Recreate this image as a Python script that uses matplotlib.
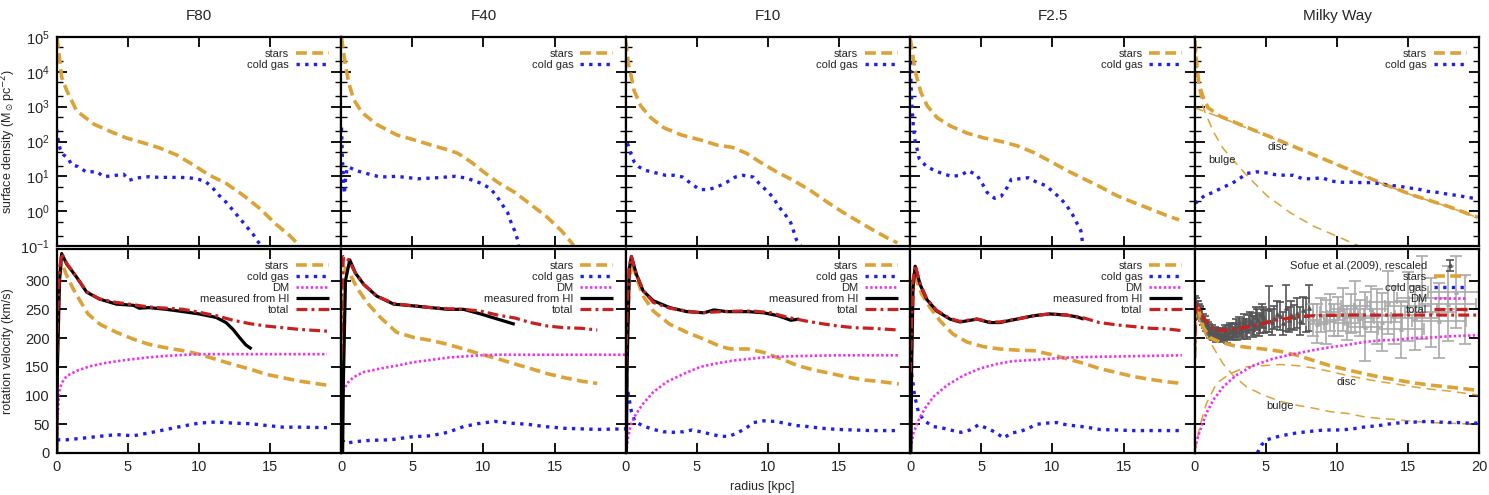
import numpy as np
import matplotlib
matplotlib.use("Agg")
import matplotlib.pyplot as plt
from matplotlib.lines import Line2D
from matplotlib.ticker import LogLocator, NullFormatter

plt.rcParams['font.family'] = ['Liberation Sans', 'DejaVu Sans']

# ---------------- data: panel titles ----------------
TITLES = ["F80", "F40", "F10", "F2.5", "Milky Way"]

# ---------------- surface density (radius kpc, log10 Msun/pc^2) ----------------
F80_SD_STARS_R = [0.02, 0.35, 0.7, 1.4, 2.6, 3.7, 4.9, 6.1, 7.2, 8.4, 9.6, 10.7, 11.9, 13.1, 14.3, 15.4, 16.4, 17.1, 17.5]
F80_SD_STARS_LOG = [5.0, 3.85, 3.47, 2.88, 2.5, 2.3, 2.1, 1.96, 1.82, 1.62, 1.33, 1.04, 0.80, 0.46, 0.07, -0.37, -0.71, -1.0, -1.2]
F80_SD_GAS_R = [0.0, 0.08, 0.23, 0.47, 0.8, 1.05, 1.5, 2.1, 2.8, 3.3, 4.0, 4.7, 5.1, 5.8, 6.5, 7.2, 7.9, 8.6, 9.3, 10.0,
                10.5, 11.0, 11.4, 11.9, 12.4, 12.9, 13.3, 13.8, 14.1, 14.5, 14.8]
F80_SD_GAS_LOG = [2.35, 2.1, 1.8, 1.62, 1.52, 1.33, 1.28, 1.12, 1.14, 0.99, 1.02, 1.06, 0.89, 0.96, 0.99, 0.97, 0.97, 0.97, 0.96, 0.91,
                  0.84, 0.65, 0.46, 0.26, 0.02, -0.22, -0.42, -0.66, -0.85, -1.05, -1.2]

F40_SD_STARS_R = [0.02, 0.28, 0.52, 0.87, 1.46, 2.5, 3.9, 5.1, 6.3, 7.5, 8.2, 9.1, 10.0, 11.0, 12.2, 13.3, 14.5, 15.5, 16.2, 16.5]
F40_SD_STARS_LOG = [5.0, 4.23, 3.7, 3.21, 2.83, 2.49, 2.19, 2.05, 1.90, 1.76, 1.66, 1.42, 1.13, 0.83, 0.54, 0.20, -0.18, -0.57, -0.91, -1.1]
F40_SD_GAS_R = [0.02, 0.05, 0.08, 0.12, 0.17, 0.22, 0.3, 0.4, 0.52, 1.0, 1.8, 2.75, 3.9, 5.4, 6.75, 8.0, 8.8, 9.3, 9.9, 10.5,
                10.9, 11.3, 11.7, 11.9, 12.2, 12.4, 12.5, 12.6]
F40_SD_GAS_LOG = [2.4, 2.0, 1.6, 1.2, 0.8, 0.5, 0.9, 1.2, 1.27, 1.17, 1.08, 0.98, 1.0, 0.93, 0.96, 1.0, 0.95, 0.88, 0.79, 0.64,
                  0.45, 0.2, -0.04, -0.28, -0.57, -0.82, -1.06, -1.2]

F10_SD_STARS_R = [0.0, 0.19, 0.35, 0.59, 1.06, 1.77, 2.7, 3.9, 5.2, 6.4, 7.5, 8.5, 9.4, 10.6, 11.8, 13.0, 14.2, 15.3, 16.5, 17.5, 18.4, 19.1]
F10_SD_STARS_LOG = [4.9, 4.23, 3.94, 3.46, 3.02, 2.68, 2.39, 2.19, 2.05, 1.90, 1.83, 1.66, 1.42, 1.13, 0.88, 0.59, 0.25, -0.04, -0.33, -0.57, -0.77, -0.91]
F10_SD_GAS_R = [0.12, 0.35, 0.59, 0.94, 1.4, 2.1, 2.8, 3.4, 4.0, 4.6, 5.2, 5.8, 6.4, 7.1, 7.7, 8.25, 8.96, 9.4, 9.9, 10.4,
                10.7, 11.2, 11.6, 11.8, 12.0, 12.4]
F10_SD_GAS_LOG = [1.95, 1.66, 1.42, 1.27, 1.17, 1.1, 1.03, 1.03, 0.98, 0.79, 0.62, 0.62, 0.69, 0.83, 0.98, 1.03, 0.98, 0.79, 0.59, 0.38,
                  0.16, -0.09, -0.33, -0.57, -0.82, -1.06]

F25_SD_STARS_R = [0.0, 0.1, 0.23, 0.4, 0.75, 1.2, 1.9, 2.85, 4.0, 5.2, 6.4, 7.5, 8.7, 9.9, 11.0, 12.2, 13.4, 14.5, 15.7, 16.9, 18.0, 18.9]
F25_SD_STARS_LOG = [4.95, 4.72, 4.33, 3.94, 3.41, 3.02, 2.68, 2.44, 2.24, 2.1, 2.0, 1.88, 1.68, 1.42, 1.17, 0.93, 0.69, 0.45, 0.25, 0.06, -0.12, -0.25]
F25_SD_GAS_R = [0.02, 0.05, 0.08, 0.11, 0.15, 0.2, 0.27, 0.35, 0.47, 0.63, 1.1, 1.68, 2.27, 2.9, 3.55, 4.1, 4.7, 5.07, 5.4, 5.93,
                6.4, 6.8, 7.1, 7.7, 8.3, 8.9, 9.5, 10.1, 10.6, 11.0, 11.4, 11.7, 12.0, 12.1, 12.2]
F25_SD_GAS_LOG = [4.3, 3.75, 3.45, 3.15, 2.85, 2.55, 2.25, 2.0, 1.81, 1.51, 1.3, 1.17, 1.08, 1.0, 1.03, 1.16, 1.03, 0.79, 0.54, 0.37,
                  0.43, 0.67, 0.91, 0.93, 0.96, 0.83, 0.74, 0.54, 0.35, 0.16, -0.09, -0.33, -0.57, -0.86, -1.1]

MW_SD_STARS_R = [0.02, 0.16, 0.3, 0.6, 0.94, 1.76, 3.65, 6.0, 8.35, 10.7, 13.4, 15.4, 17.8, 19.9]
MW_SD_STARS_LOG = [4.9, 4.14, 3.65, 3.26, 2.97, 2.73, 2.41, 2.02, 1.62, 1.22, 0.76, 0.45, 0.14, -0.18]
MW_SD_DISC_R = [0.0, 1.76, 3.65, 6.0, 8.35, 10.7, 13.4, 15.4, 17.8, 19.9]
MW_SD_DISC_LOG = [2.97, 2.70, 2.39, 2.01, 1.61, 1.21, 0.75, 0.44, 0.13, -0.19]
MW_SD_BULGE_R = [0.05, 0.15, 0.3, 0.5, 0.7, 1.3, 2.0, 2.8, 3.65, 5.06, 6.7, 8.35, 10.0, 11.9, 12.5]
MW_SD_BULGE_LOG = [4.8, 4.1, 3.5, 3.1, 2.87, 2.29, 1.8, 1.42, 1.03, 0.45, -0.04, -0.43, -0.72, -1.06, -1.15]
MW_SD_GAS_R = [0.0, 0.12, 0.7, 1.3, 2.0, 2.6, 3.2, 3.65, 4.35, 5.0, 5.65, 6.35, 6.94, 7.6, 8.24, 8.94, 9.65, 10.35, 10.94, 11.65,
               12.35, 13.0, 13.65, 14.35, 15.0, 15.65, 16.35, 17.06, 17.76, 18.47, 19.18, 19.9]
MW_SD_GAS_LOG = [0.25, 0.25, 0.45, 0.54, 0.69, 0.79, 0.95, 1.08, 1.13, 1.10, 1.05, 1.03, 1.03, 0.93, 0.93, 0.96, 0.86, 0.83, 0.83, 0.82,
                 0.82, 0.79, 0.74, 0.72, 0.67, 0.64, 0.57, 0.54, 0.49, 0.45, 0.40, 0.35]

# ---------------- rotation velocity (radius kpc, km/s) ----------------
F80_V_STARS_R = [0.0, 0.05, 0.15, 0.3, 0.45, 0.7, 1.17, 1.64, 2.2, 3.04, 4.2, 5.4, 6.5, 7.7, 8.9, 10.0, 11.2, 12.4, 13.6, 14.7, 15.9, 17.1, 18.2, 19.0]
F80_V_STARS = [0, 200, 290, 330, 325, 309, 285, 265, 242, 224, 210, 198, 189, 183, 178, 172, 163, 154, 146, 137, 131, 125, 121, 118]
F80_V_GAS_R = [0.02, 0.7, 1.9, 3.0, 4.2, 5.4, 6.5, 7.7, 8.9, 10.0, 11.2, 12.4, 13.6, 14.7, 15.9, 17.1, 19.0]
F80_V_GAS = [23, 23, 26, 29, 32, 30, 35, 41, 47, 52, 54, 52, 51, 48, 45, 45, 44]
F80_V_DM_R = [0.0, 0.05, 0.15, 0.35, 0.7, 1.4, 2.34, 3.5, 4.9, 6.3, 7.7, 9.1, 10.5, 12.4, 14.7, 19.0]
F80_V_DM = [0, 47, 105, 122, 134, 143, 151, 157, 162, 166, 169, 171, 172, 172, 172, 172]
F80_V_HI_R = [0.0, 0.05, 0.2, 0.35, 0.7, 1.4, 2.1, 3.0, 4.2, 5.4, 5.8, 6.5, 7.7, 8.9, 10.0, 11.2, 11.9, 12.4, 12.85, 13.3, 13.7]
F80_V_HI = [0, 150, 300, 347, 329, 306, 280, 268, 259, 257, 252, 253, 250, 246, 242, 236, 227, 215, 201, 188, 181]
F80_V_TOT_R = [0.0, 0.05, 0.2, 0.35, 0.7, 1.4, 2.1, 3.0, 4.2, 5.4, 6.5, 7.7, 8.9, 10.0, 11.2, 12.4, 13.6, 14.7, 15.9, 17.1, 19.0]
F80_V_TOT = [170, 230, 320, 347, 330, 306, 281, 268, 262, 258, 254, 252, 250, 245, 239, 231, 225, 221, 218, 215, 212]

F40_V_STARS_R = [0.0, 0.1, 0.28, 0.64, 1.1, 1.8, 2.75, 3.9, 5.1, 6.3, 7.5, 8.6, 9.8, 11.0, 12.2, 13.3, 14.5, 15.7, 16.9, 18.0]
F40_V_STARS = [0, 250, 322, 310, 288, 262, 236, 210, 201, 196, 189, 181, 172, 164, 155, 147, 138, 131, 125, 121]
F40_V_GAS_R = [0.05, 0.3, 1.1, 2.05, 3.5, 4.9, 6.3, 7.5, 8.6, 9.6, 10.8, 11.9, 13.1, 14.3, 15.7, 16.9, 18.0, 20.0]
F40_V_GAS = [23, 17, 20, 22, 23, 28, 30, 36, 46, 51, 55, 52, 50, 46, 43, 42, 41, 42]
F40_V_DM_R = [0.0, 0.05, 0.1, 0.4, 0.87, 1.6, 2.75, 3.9, 5.1, 6.3, 7.5, 8.6, 9.8, 11.0, 13.3, 20.0]
F40_V_DM = [0, 25, 105, 121, 132, 141, 147, 152, 158, 162, 166, 168, 170, 171, 171, 171]
F40_V_HI_R = [0.1, 0.15, 0.3, 0.6, 1.0, 1.6, 2.5, 3.7, 5.1, 6.3, 7.5, 8.6, 9.8, 11.0, 12.2]
F40_V_HI = [0, 120, 300, 336, 313, 293, 273, 259, 256, 253, 250, 250, 242, 233, 224]
F40_V_TOT_R = [0.0, 0.08, 0.16, 0.52, 1.0, 1.6, 2.5, 3.7, 5.1, 6.3, 7.5, 8.6, 9.8, 11.0, 12.2, 13.3, 14.5, 15.7, 16.9, 18.0]
F40_V_TOT = [170, 300, 342, 336, 313, 293, 273, 260, 256, 253, 251, 250, 247, 240, 235, 227, 221, 218, 217, 214]

F10_V_STARS_R = [0.0, 0.1, 0.25, 0.47, 0.75, 1.23, 1.94, 3.1, 4.3, 5.5, 6.7, 7.4, 8.6, 9.7, 10.9, 12.1, 13.3, 14.5, 15.6, 16.8, 18.0, 19.2]
F10_V_STARS = [0, 195, 300, 333, 305, 273, 247, 224, 210, 198, 185, 181, 181, 175, 164, 152, 144, 138, 132, 127, 124, 120]
F10_V_GAS_R = [0.0, 0.17, 0.4, 0.64, 1.23, 1.94, 2.65, 3.35, 4.07, 4.66, 5.25, 5.96, 6.67, 7.26, 7.85, 8.44, 9.0, 9.7, 10.45, 11.15,
               11.9, 12.8, 13.8, 14.9, 16.1, 17.3, 18.5, 19.2]
F10_V_GAS = [121, 104, 72, 55, 47, 41, 37, 36, 37, 40, 37, 33, 29, 29, 35, 43, 53, 56, 55, 52, 48, 46, 43, 41, 40, 39, 39, 39]
F10_V_DM_R = [0.0, 0.05, 0.17, 0.4, 0.75, 1.23, 1.94, 2.9, 4.1, 5.25, 6.4, 7.6, 8.8, 10.0, 11.2, 12.6, 14.9, 19.2]
F10_V_DM = [0, 6, 29, 52, 69, 86, 106, 124, 138, 150, 156, 161, 164, 167, 168, 169, 170, 170]
F10_V_HI_R = [0.05, 0.1, 0.25, 0.4, 0.75, 1.23, 1.94, 3.1, 4.3, 5.5, 6.2, 7.1, 8.6, 9.7, 10.7, 11.6, 12.2]
F10_V_HI = [0, 150, 320, 342, 311, 282, 265, 253, 246, 244, 249, 246, 246, 244, 239, 231, 233]
F10_V_TOT_R = [0.0, 0.1, 0.25, 0.4, 0.75, 1.23, 1.94, 3.1, 4.3, 5.25, 6.67, 8.0, 9.0, 10.2, 11.4, 12.6, 13.8, 14.9, 16.1, 17.3, 19.2]
F10_V_TOT = [150, 250, 325, 342, 311, 283, 262, 252, 247, 244, 246, 247, 247, 244, 236, 230, 225, 221, 218, 217, 214]

F25_V_STARS_R = [0.0, 0.1, 0.25, 0.47, 0.82, 1.4, 2.1, 3.0, 4.0, 5.15, 6.3, 7.5, 8.7, 9.8, 11.0, 12.2, 13.3, 14.5, 15.7, 16.9, 18.0, 19.1]
F25_V_STARS = [0, 220, 310, 299, 276, 253, 230, 207, 193, 185, 181, 179, 178, 172, 164, 156, 147, 140, 133, 128, 124, 121]
F25_V_GAS_R = [0.1, 0.2, 0.3, 0.6, 1.05, 1.64, 2.34, 3.0, 3.6, 4.2, 4.8, 5.4, 6.0, 6.56, 7.14, 7.7, 8.3, 8.9, 9.6, 10.3,
               11.0, 11.7, 12.4, 13.3, 14.5, 15.7, 16.9, 18.0, 19.1]
F25_V_GAS = [138, 121, 101, 69, 55, 46, 43, 39, 36, 40, 49, 43, 36, 26, 35, 37, 43, 50, 52, 53, 49, 47, 45, 41, 40, 39, 39, 39, 39]
F25_V_DM_R = [0.0, 0.05, 0.23, 0.6, 1.05, 1.64, 2.6, 3.75, 4.9, 6.1, 7.26, 8.7, 9.8, 11.0, 12.2, 14.5, 19.1]
F25_V_DM = [0, 12, 35, 58, 78, 98, 118, 135, 147, 155, 160, 162, 164, 166, 167, 168, 170]
F25_V_HI_R = [0.05, 0.1, 0.2, 0.35, 0.7, 1.17, 1.87, 2.8, 3.5, 4.0, 4.7, 5.6, 6.3, 7.5, 8.7, 9.8, 11.0, 11.7, 12.2]
F25_V_HI = [0, 150, 290, 325, 293, 267, 247, 233, 228, 230, 233, 227, 227, 233, 239, 242, 240, 237, 233]
F25_V_TOT_R = [0.0, 0.1, 0.2, 0.35, 0.7, 1.17, 1.87, 2.8, 3.5, 4.0, 4.7, 5.6, 6.3, 7.5, 8.7, 9.8, 11.0, 12.2, 13.3, 14.5, 15.7, 16.9, 18.0, 19.1]
F25_V_TOT = [140, 230, 300, 327, 294, 268, 248, 234, 229, 231, 233, 228, 228, 233, 239, 242, 240, 235, 227, 223, 220, 217, 216, 213]

MW_V_STARS_R = [0.0, 0.07, 0.15, 0.6, 1.06, 1.76, 2.7, 3.65, 4.8, 6.0, 7.2, 8.35, 9.5, 10.7, 11.9, 13.06, 14.2, 15.4, 16.6, 17.8, 18.9, 19.9]
MW_V_STARS = [180, 253, 259, 219, 201, 193, 187, 184, 181, 177, 170, 161, 152, 145, 138, 132, 127, 122, 118, 115, 112, 109]
MW_V_BULGE_R = [0.0, 0.1, 0.6, 1.3, 2.0, 2.7, 3.65, 4.8, 6.0, 7.2, 8.35, 9.5, 10.7, 11.9, 13.06, 14.2, 15.4, 16.6, 17.8, 19.9]
MW_V_BULGE = [180, 247, 213, 184, 155, 135, 115, 101, 90, 83, 78, 72, 69, 63, 60, 58, 55, 53, 52, 50]
MW_V_DISC_R = [0.0, 0.35, 0.82, 1.53, 2.47, 3.65, 4.8, 6.0, 7.2, 8.35, 9.5, 10.7, 11.9, 13.06, 14.2, 15.4, 16.6, 17.8, 19.9]
MW_V_DISC = [0, 46, 86, 121, 138, 150, 152, 154, 152, 148, 142, 135, 129, 124, 120, 115, 111, 108, 101]
MW_V_DM_R = [0.0, 0.05, 0.24, 0.47, 0.82, 1.3, 2.0, 2.9, 4.1, 5.5, 6.9, 8.35, 9.5, 10.7, 11.9, 13.06, 14.2, 15.4, 16.6, 17.8, 18.9, 19.9]
MW_V_DM = [0, 12, 29, 46, 69, 92, 115, 135, 152, 164, 172, 179, 184, 188, 193, 196, 197, 200, 201, 203, 204, 205]
MW_V_GAS_R = [4.4, 4.7, 5.06, 5.76, 6.5, 7.2, 7.9, 8.6, 9.3, 10.0, 10.7, 11.4, 12.1, 12.8, 13.5, 14.2, 14.9, 15.6, 16.35, 17.06,
              17.8, 18.5, 19.2, 19.9]
MW_V_GAS = [0, 14, 23, 28, 32, 35, 37, 39, 40, 40, 41, 43, 46, 47, 50, 52, 53, 54, 55, 54, 53, 53, 52, 52]
MW_V_TOT_R = [0.0, 0.05, 0.15, 0.6, 1.3, 2.0, 2.9, 4.1, 5.5, 6.9, 8.35, 10.7, 13.0, 15.4, 19.9]
MW_V_TOT = [165, 240, 259, 236, 216, 213, 216, 221, 230, 236, 239, 240, 240, 240, 240]

# Sofue et al. (2009), rescaled: inner (dark) and outer (light) data
SOFUE_IN_R = [0.05, 0.1, 0.15, 0.2, 0.25, 0.3, 0.35, 0.4, 0.5, 0.6, 0.7, 0.8, 0.9, 1.0, 1.1, 1.2, 1.3, 1.4, 1.5, 1.6,
              1.7, 1.8, 1.9, 2.0, 2.1, 2.2, 2.3, 2.4, 2.5, 2.6, 2.7, 2.8, 2.9, 3.0, 3.1, 3.2, 3.3, 3.4, 3.5, 3.6,
              3.7, 3.8, 3.9, 4.0, 4.1, 4.2, 4.3, 4.4, 4.5, 4.6, 4.7, 4.8, 4.9, 5.0, 5.2, 5.4, 5.6, 5.8, 6.0, 6.2,
              6.4, 6.6, 6.8, 7.0, 7.2, 7.4, 7.6, 7.8, 8.0]
SOFUE_IN_V = [262, 258, 254, 255, 248, 250, 244, 245, 240, 232, 228, 222, 218, 215, 210, 212, 206, 210, 204, 208,
              203, 207, 205, 206, 210, 208, 204, 210, 214, 212, 208, 214, 220, 210, 222, 216, 212, 220, 226, 218,
              214, 224, 230, 228, 220, 222, 236, 232, 222, 226, 240, 236, 228, 230, 250, 228, 235, 242, 238, 226,
              252, 232, 240, 236, 244, 230, 248, 240, 252]
SOFUE_IN_E = [12, 12, 10, 10, 10, 10, 10, 10, 10, 10, 10, 10, 10, 10, 10, 10, 10, 10, 10, 10,
              10, 10, 10, 10, 12, 12, 12, 12, 12, 12, 12, 12, 14, 14, 14, 14, 14, 14, 16, 16,
              16, 16, 16, 16, 18, 16, 18, 18, 18, 18, 20, 18, 20, 20, 40, 22, 20, 22, 24, 20,
              40, 22, 24, 22, 26, 24, 24, 30, 40]
SOFUE_OUT_R = [8.3, 8.6, 8.9, 9.2, 9.5, 9.8, 10.1, 10.4, 10.7, 11.0, 11.3, 11.6, 12.0, 12.4, 12.8, 13.2, 13.6, 14.0,
               14.5, 15.0, 15.5, 16.0, 16.6, 17.2, 17.8, 18.4, 19.0]
SOFUE_OUT_V = [232, 225, 240, 228, 245, 232, 238, 250, 226, 242, 255, 235, 220, 250, 238, 228, 262, 240,
               215, 255, 235, 270, 245, 230, 260, 280, 250]
SOFUE_OUT_XE = [0.5, 0.5, 0.6, 0.6, 0.7, 0.7, 0.8, 0.8, 0.9, 0.9, 1.0, 1.0, 1.2, 1.2, 1.3, 1.4, 1.5, 1.5,
                1.6, 1.6, 1.7, 1.8, 1.8, 1.9, 2.0, 2.0, 2.0]
SOFUE_OUT_VE = [28, 34, 30, 38, 32, 28, 34, 38, 30, 34, 44, 32, 60, 40, 48, 50, 55, 50,
                50, 60, 55, 72, 60, 65, 65, 62, 60]

# ---------------- styles ----------------
C_STARS = '#DCA236'
C_GAS = '#1F1FEE'
C_DM = '#EE30EE'
C_TOT = '#C8201F'
C_TXT = '#262626'

ST_STARS = dict(color=C_STARS, lw=2.6, dashes=(3.0, 1.5), dash_capstyle='butt')
ST_GAS = dict(color=C_GAS, lw=2.4, linestyle=(0, (1, 1.6)))
ST_DM = dict(color=C_DM, lw=1.9, linestyle=(0, (0.9, 0.9)))
ST_HI = dict(color='black', lw=2.3, solid_capstyle='butt')
ST_TOT = dict(color=C_TOT, lw=2.3, dashes=(3.4, 1.3, 0.9, 1.3))
ST_THIN = dict(color=C_STARS, lw=1.1, dashes=(6, 4))

W, H = 1489, 495
fig = plt.figure(figsize=(W / 100, H / 100), dpi=100)

x_lefts = [56.7, 341.2, 625.7, 910.2, 1194.7]
pw = 284.5
top_y0, top_y1 = 37, 246
bot_y0, bot_y1 = 249, 453

sd_sets = [
    (F80_SD_STARS_R, F80_SD_STARS_LOG, F80_SD_GAS_R, F80_SD_GAS_LOG),
    (F40_SD_STARS_R, F40_SD_STARS_LOG, F40_SD_GAS_R, F40_SD_GAS_LOG),
    (F10_SD_STARS_R, F10_SD_STARS_LOG, F10_SD_GAS_R, F10_SD_GAS_LOG),
    (F25_SD_STARS_R, F25_SD_STARS_LOG, F25_SD_GAS_R, F25_SD_GAS_LOG),
    (MW_SD_STARS_R, MW_SD_STARS_LOG, MW_SD_GAS_R, MW_SD_GAS_LOG),
]
v_sets = [
    (F80_V_STARS_R, F80_V_STARS, F80_V_GAS_R, F80_V_GAS, F80_V_DM_R, F80_V_DM, F80_V_HI_R, F80_V_HI, F80_V_TOT_R, F80_V_TOT),
    (F40_V_STARS_R, F40_V_STARS, F40_V_GAS_R, F40_V_GAS, F40_V_DM_R, F40_V_DM, F40_V_HI_R, F40_V_HI, F40_V_TOT_R, F40_V_TOT),
    (F10_V_STARS_R, F10_V_STARS, F10_V_GAS_R, F10_V_GAS, F10_V_DM_R, F10_V_DM, F10_V_HI_R, F10_V_HI, F10_V_TOT_R, F10_V_TOT),
    (F25_V_STARS_R, F25_V_STARS, F25_V_GAS_R, F25_V_GAS, F25_V_DM_R, F25_V_DM, F25_V_HI_R, F25_V_HI, F25_V_TOT_R, F25_V_TOT),
]

leg_kw = dict(loc='upper right', frameon=False, markerfirst=False, fontsize=8,
              handlelength=3.0, handletextpad=0.6, labelspacing=0.08,
              borderaxespad=0.9, borderpad=0.2, labelcolor=C_TXT)


def style_axes(ax, xt):
    for s in ax.spines.values():
        s.set_linewidth(1.6)
    ax.tick_params(which='major', direction='in', top=True, right=True, length=7, width=1.3,
                   labelsize=10.5, colors='black', labelcolor=C_TXT, pad=5)
    ax.tick_params(which='minor', direction='in', top=True, right=True, length=4, width=1.0)
    ax.set_xlim(0, 20)
    ax.set_xticks(xt)


def ax_rect(i, y0, y1):
    return [x_lefts[i] / W, 1 - y1 / H, pw / W, (y1 - y0) / H]


for i in range(5):
    xt = [0, 5, 10, 15, 20] if i == 4 else [0, 5, 10, 15]
    # ---- top: surface density ----
    ax = fig.add_axes(ax_rect(i, top_y0, top_y1))
    sr, sl, gr, gl = sd_sets[i]
    ax.set_yscale('log')
    ax.plot(sr, 10 ** np.array(sl), label='stars', **ST_STARS)
    ax.plot(gr, 10 ** np.array(gl), label='cold gas', **ST_GAS)
    if i == 4:
        ax.plot(MW_SD_DISC_R, 10 ** np.array(MW_SD_DISC_LOG), **ST_THIN)
        ax.plot(MW_SD_BULGE_R, 10 ** np.array(MW_SD_BULGE_LOG), **ST_THIN)
        ax.text(5.8, 10 ** 1.85, 'disc', fontsize=8, color=C_TXT, ha='center', va='center')
        ax.text(1.9, 10 ** 1.47, 'bulge', fontsize=8, color=C_TXT, ha='center', va='center')
    ax.set_ylim(1e-1, 1e5)
    style_axes(ax, xt)
    ax.yaxis.set_major_locator(LogLocator(base=10, numticks=10))
    ax.yaxis.set_minor_locator(LogLocator(base=10, subs=(2.0, 5.0), numticks=20))
    ax.yaxis.set_minor_formatter(NullFormatter())
    ax.set_xticklabels([])
    if i != 0:
        ax.set_yticklabels([])
    ax.legend(**leg_kw)
    fig.text((x_lefts[i] + pw / 2) / W, 1 - 16 / H, TITLES[i], ha='center', va='center',
             fontsize=11, color=C_TXT)

    # ---- bottom: rotation velocity ----
    axb = fig.add_axes(ax_rect(i, bot_y0, bot_y1))
    if i < 4:
        s_r, s_v, g_r, g_v, d_r, d_v, h_r, h_v, t_r, t_v = v_sets[i]
        axb.plot(s_r, s_v, **ST_STARS)
        axb.plot(g_r, g_v, **ST_GAS)
        axb.plot(d_r, d_v, **ST_DM)
        axb.plot(h_r, h_v, **ST_HI)
        axb.plot(t_r, t_v, **ST_TOT)
        handles = [Line2D([], [], **ST_STARS), Line2D([], [], **ST_GAS), Line2D([], [], **ST_DM),
                   Line2D([], [], **ST_HI), Line2D([], [], **ST_TOT)]
        labels = ['stars', 'cold gas', 'DM', 'measured from HI', 'total']
    else:
        eb_in = axb.errorbar(SOFUE_IN_R, SOFUE_IN_V, yerr=SOFUE_IN_E, fmt='^', ms=2.5, color='#555555',
                             ecolor='#555555', elinewidth=1.2, capsize=3, capthick=1.2, zorder=1)
        axb.errorbar(SOFUE_OUT_R, SOFUE_OUT_V, xerr=SOFUE_OUT_XE, yerr=SOFUE_OUT_VE, fmt='^', ms=2.5,
                     color='#AAAAAA', ecolor='#AAAAAA', elinewidth=1.2, capsize=4, capthick=1.2, zorder=1)
        axb.plot(MW_V_DISC_R, MW_V_DISC, **ST_THIN)
        axb.plot(MW_V_BULGE_R, MW_V_BULGE, **ST_THIN)
        axb.plot(MW_V_STARS_R, MW_V_STARS, **ST_STARS)
        axb.plot(MW_V_GAS_R, MW_V_GAS, **ST_GAS)
        axb.plot(MW_V_DM_R, MW_V_DM, **ST_DM)
        axb.plot(MW_V_TOT_R, MW_V_TOT, **ST_TOT)
        axb.text(10.7, 124, 'disc', fontsize=8, color=C_TXT, ha='center', va='center')
        axb.text(6.0, 81, 'bulge', fontsize=8, color=C_TXT, ha='center', va='center')
        handles = [eb_in, Line2D([], [], **ST_STARS), Line2D([], [], **ST_GAS), Line2D([], [], **ST_DM),
                   Line2D([], [], **ST_TOT)]
        labels = ['Sofue et al.(2009), rescaled', 'stars', 'cold gas', 'DM', 'total']
    axb.set_ylim(0, 355)
    style_axes(axb, xt)
    axb.set_yticks([0, 50, 100, 150, 200, 250, 300])
    if i != 0:
        axb.set_yticklabels([])
    axb.legend(handles, labels, **leg_kw)

fig.text(8 / W, 1 - 141 / H, r'surface density (M$_\odot$pc$^{-2}$)', rotation=90, ha='center', va='center',
         fontsize=9, color=C_TXT)
fig.text(8 / W, 1 - 351 / H, 'rotation velocity (km/s)', rotation=90, ha='center', va='center',
         fontsize=9, color=C_TXT)
fig.text(762 / W, 1 - 487 / H, 'radius [kpc]', ha='center', va='center', fontsize=9, color=C_TXT)

fig.savefig('out.png', dpi=100)
